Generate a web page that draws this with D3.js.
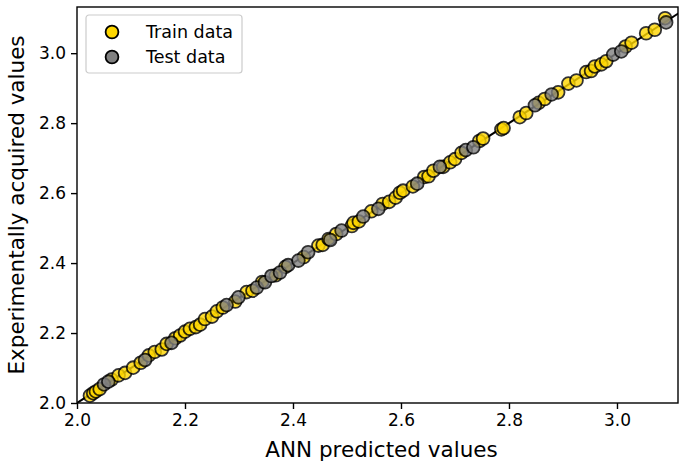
<!DOCTYPE html>
<html>
<head>
<meta charset="utf-8">
<script src="https://cdn.jsdelivr.net/npm/d3@7"></script>
<style>
  body { margin: 0; background: #fff; }
  svg { font-family: "DejaVu Sans", sans-serif; }
</style>
</head>
<body>
<svg id="mySvg"></svg>
<script>
const width = 680;
const height = 462;

// train set: ANN predicted vs experimentally acquired
const trainPred = [2.024, 2.030, 2.035, 2.042, 2.064, 2.077, 2.089, 2.104, 2.118, 2.133,
  2.144, 2.157, 2.166, 2.182, 2.191, 2.200, 2.209, 2.220, 2.228, 2.237,
  2.250, 2.259, 2.270, 2.293, 2.314, 2.325, 2.343, 2.368, 2.386, 2.420,
  2.447, 2.455, 2.466, 2.480, 2.509, 2.512, 2.522, 2.545, 2.566, 2.578,
  2.590, 2.598, 2.604, 2.622, 2.643, 2.651, 2.660, 2.678, 2.691, 2.700,
  2.712, 2.745, 2.752, 2.786, 2.790, 2.820, 2.832, 2.855, 2.866, 2.891,
  2.910, 2.925, 2.943, 2.952, 2.959, 2.971, 2.980, 3.016, 3.027, 3.054,
  3.070, 3.089];
const trainActual = [2.021, 2.028, 2.033, 2.040, 2.067, 2.079, 2.086, 2.101, 2.115, 2.136,
  2.146, 2.153, 2.169, 2.185, 2.193, 2.204, 2.212, 2.217, 2.224, 2.240,
  2.247, 2.262, 2.273, 2.290, 2.317, 2.321, 2.346, 2.365, 2.389, 2.417,
  2.450, 2.452, 2.469, 2.483, 2.506, 2.515, 2.519, 2.548, 2.569, 2.575,
  2.587, 2.601, 2.607, 2.619, 2.646, 2.648, 2.664, 2.675, 2.688, 2.697,
  2.715, 2.749, 2.756, 2.782, 2.786, 2.817, 2.829, 2.858, 2.869, 2.888,
  2.913, 2.922, 2.946, 2.949, 2.962, 2.968, 2.977, 3.019, 3.030, 3.057,
  3.067, 3.100];

// test set
const testPred = [2.050, 2.058, 2.126, 2.175, 2.277, 2.299, 2.333, 2.348, 2.360, 2.376,
  2.391, 2.410, 2.428, 2.469, 2.490, 2.530, 2.558, 2.630, 2.672, 2.720,
  2.734, 2.848, 2.879, 2.993, 3.008, 3.091];
const testActual = [2.053, 2.061, 2.123, 2.172, 2.280, 2.302, 2.330, 2.345, 2.363, 2.373,
  2.394, 2.407, 2.431, 2.466, 2.493, 2.533, 2.555, 2.627, 2.675, 2.723,
  2.731, 2.851, 2.882, 2.996, 3.005, 3.088];

const xTicks = [2.0, 2.2, 2.4, 2.6, 2.8, 3.0];
const yTicks = [2.0, 2.2, 2.4, 2.6, 2.8, 3.0];

const margin = { top: 7, right: 2, bottom: 59, left: 77 };
const plotW = width - margin.left - margin.right;
const plotH = height - margin.top - margin.bottom;

const svg = d3.select("#mySvg").attr("width", width).attr("height", height);

const x = d3.scaleLinear().domain([2.0, 3.113]).range([0, plotW]);
const y = d3.scaleLinear().domain([2.0, 3.132]).range([plotH, 0]);

let g = svg.append("g").attr("transform", `translate(${margin.left}, ${margin.top})`);

g.append("clipPath").attr("id", "clip")
  .append("rect").attr("width", plotW).attr("height", plotH);

// y = x reference line
g.append("line")
  .attr("clip-path", "url(#clip)")
  .attr("x1", x(2.0)).attr("y1", y(2.0))
  .attr("x2", x(3.2)).attr("y2", y(3.2))
  .attr("stroke", "#000").attr("stroke-width", 2);

const trainData = trainPred.map((d, i) => ({ p: d, a: trainActual[i] }));
const testData = testPred.map((d, i) => ({ p: d, a: testActual[i] }));

const r = 6.4;

g.append("g").selectAll("circle")
  .data(trainData).enter().append("circle")
  .attr("cx", d => x(d.p)).attr("cy", d => y(d.a)).attr("r", r)
  .attr("fill", "#ffd700").attr("stroke", "#000").attr("stroke-width", 1.8)
  .attr("opacity", 0.8);

g.append("g").selectAll("circle")
  .data(testData).enter().append("circle")
  .attr("cx", d => x(d.p)).attr("cy", d => y(d.a)).attr("r", r)
  .attr("fill", "#808080").attr("stroke", "#000").attr("stroke-width", 1.8)
  .attr("opacity", 0.8);

// axes
const xAxis = g.append("g").attr("transform", `translate(0, ${plotH})`)
  .call(d3.axisBottom(x).tickValues(xTicks).tickFormat(d3.format(".1f")).tickSize(6).tickPadding(5));
const yAxis = g.append("g")
  .call(d3.axisLeft(y).tickValues(yTicks).tickFormat(d3.format(".1f")).tickSize(6).tickPadding(5));

[xAxis, yAxis].forEach(a => {
  a.select(".domain").remove();
  a.selectAll("line").attr("stroke", "#000").attr("stroke-width", 1.4);
  a.selectAll("text").attr("font-size", 17).attr("fill", "#000")
    .attr("font-family", "DejaVu Sans");
});

// frame
g.append("rect").attr("width", plotW).attr("height", plotH)
  .attr("fill", "none").attr("stroke", "#000").attr("stroke-width", 1.4);

// axis titles
svg.append("text")
  .attr("x", margin.left + plotW / 2 + 4).attr("y", 457)
  .attr("text-anchor", "middle").attr("font-size", 21.5)
  .text("ANN predicted values");

svg.append("text")
  .attr("transform", `translate(24, ${margin.top + plotH / 2}) rotate(-90)`)
  .attr("text-anchor", "middle").attr("font-size", 21.5)
  .text("Experimentally acquired values");

// legend
const legend = svg.append("g").attr("transform", "translate(86, 15)");
legend.append("rect").attr("width", 156).attr("height", 58).attr("rx", 3)
  .attr("fill", "#fff").attr("fill-opacity", 0.8)
  .attr("stroke", "#cccccc").attr("stroke-width", 1.2);

const legendItems = [
  { label: "Train data", color: "#ffd700" },
  { label: "Test data", color: "#808080" }
];
legendItems.forEach((d, i) => {
  const row = legend.append("g").attr("transform", `translate(0, ${17 + i * 25})`);
  row.append("circle").attr("cx", 26).attr("cy", 0).attr("r", r)
    .attr("fill", d.color).attr("stroke", "#000").attr("stroke-width", 1.8);
  row.append("text").attr("x", 60).attr("y", 0).attr("dy", "0.35em")
    .attr("font-size", 17.5).text(d.label);
});
</script>
</body>
</html>
